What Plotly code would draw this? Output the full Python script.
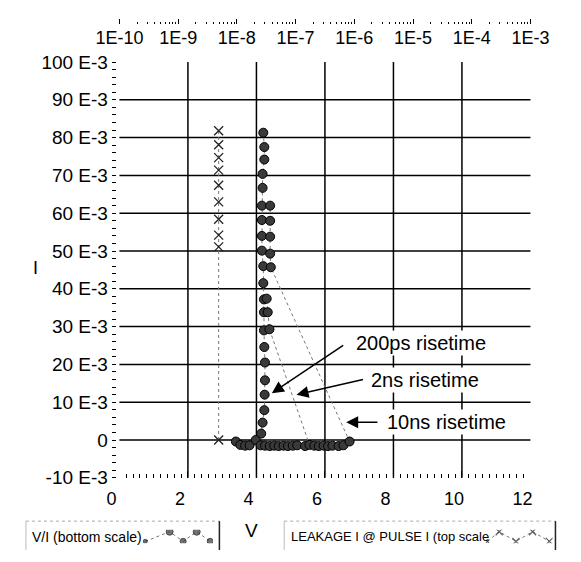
import plotly.graph_objects as go

# ---------------- data ----------------
# V/I curves (bottom scale): voltage in V, current in mA
v_200ps = [3.40, 3.53, 3.67, 3.80, 3.98, 4.14, 4.18, 4.23, 4.24, 4.25, 4.25, 4.23, 4.22,
           4.22, 4.22, 4.20, 4.20, 4.16, 4.16, 4.16, 4.16, 4.18, 4.18, 4.23, 4.23, 4.20]
i_200ps = [-0.4, -1.3, -1.5, -1.4, 0.0, 1.7, 4.6, 7.9, 12.0, 15.8, 20.5, 24.6, 29.0,
           33.8, 37.2, 41.5, 46.0, 50.1, 54.0, 58.2, 62.0, 66.7, 70.4, 74.2, 77.5, 81.3]

v_2ns = [4.12, 4.25, 4.39, 4.52, 4.65, 4.79, 4.92, 5.06, 5.19, 5.42, 5.55, 4.38, 4.33, 4.30]
i_2ns = [-1.4, -1.5, -1.6, -1.5, -1.6, -1.5, -1.6, -1.5, -1.4, -1.6, -1.3, 29.3, 33.8, 37.4]

v_10ns = [5.69, 5.82, 5.96, 6.09, 6.22, 6.40, 6.54, 6.72, 4.42, 4.40, 4.40, 4.40, 4.40]
i_10ns = [-1.5, -1.6, -1.5, -1.6, -1.5, -1.6, -1.4, -0.4, 45.7, 49.3, 53.8, 58.0, 62.0]

# Leakage current (top scale, A) at pulse current (mA)
leak_a = [4.9e-9, 4.9e-9, 4.9e-9, 4.9e-9, 4.9e-9, 4.9e-9, 4.9e-9, 4.9e-9, 4.9e-9, 4.9e-9]
leak_pulse_i = [0.0, 51.1, 54.2, 58.4, 63.0, 67.4, 71.4, 74.7, 78.1, 81.8]

# axes ticks
x_ticks = [0, 2, 4, 6, 8, 10, 12]
y_ticks = [-10, 0, 10, 20, 30, 40, 50, 60, 70, 80, 90, 100]
y_tick_text = ["-10 E-3", "0", "10 E-3", "20 E-3", "30 E-3", "40 E-3", "50 E-3",
               "60 E-3", "70 E-3", "80 E-3", "90 E-3", "100 E-3"]
top_exps = [-10, -9, -8, -7, -6, -5, -4, -3]
top_tick_text = ["1E-10", "1E-9", "1E-8", "1E-7", "1E-6", "1E-5", "1E-4", "1E-3"]
v_grid = [2, 4, 6, 8, 10]
i_grid = [0, 10, 20, 30, 40, 50, 60, 70, 80, 90]

# legend sample zig-zags
icon1_x = [0, 1.8, 2.8, 3.8, 4.8]
icon2_x = [0, 0.7, 1.7, 2.7, 3.7]
icon_y = [0, 1, 0, 1, 0]

# ---------------- layout helpers ----------------
W, H = 581, 562
ML, MR, MT, MB = 1, 1, 1, 1
PW, PH = W - ML - MR, H - MT - MB
def fx(px):
    return (px - ML) / PW
def fy(py):
    return (H - MB - py) / PH

X0, X1 = 103, 547      # pixel span of 0..12 V
YT, YB = 54, 486       # pixel span of 100E-3 .. -10E-3

FONT = "Liberation Sans, Arial, sans-serif"
mA = lambda a: [v / 1000.0 for v in a]

fig = go.Figure()

dot_line = dict(color="#777777", width=1, dash="dot")
dot_marker = dict(symbol="circle", size=9, color="#3a3a3a", line=dict(color="#000", width=1))
for vv, ii in [(v_200ps, i_200ps), (v_2ns, i_2ns), (v_10ns, i_10ns)]:
    fig.add_trace(go.Scatter(x=vv, y=mA(ii), mode="lines+markers", xaxis="x", yaxis="y",
                             line=dot_line, marker=dot_marker, showlegend=False))

fig.add_trace(go.Scatter(x=leak_a, y=mA(leak_pulse_i), mode="lines+markers", xaxis="x2", yaxis="y",
                         line=dict(color="#777777", width=1, dash="dot"),
                         marker=dict(symbol="x-thin", size=9, line=dict(color="#222", width=1.3)),
                         showlegend=False))
# carrier for the top-scale labels axis
fig.add_trace(go.Scatter(x=[], y=[], xaxis="x5", yaxis="y", showlegend=False))

# legend icons
fig.add_trace(go.Scatter(x=icon1_x, y=icon_y, xaxis="x3", yaxis="y3",
                         mode="lines+markers", line=dot_line,
                         marker=dict(symbol="circle", size=[4, 7, 6, 7, 6], color="#3a3a3a",
                                     line=dict(color="#000", width=1)),
                         showlegend=False, hoverinfo="skip"))
fig.add_trace(go.Scatter(x=icon2_x, y=icon_y, xaxis="x4", yaxis="y4",
                         mode="lines+markers", line=dict(color="#777777", width=1, dash="dot"),
                         marker=dict(symbol="x-thin", size=[3, 7, 7, 7, 7], line=dict(color="#222", width=1.2)),
                         showlegend=False, hoverinfo="skip"))

xdom = [fx(X0), fx(X1)]
minor_top = [k * 10.0 ** e for e in top_exps[:-1] for k in range(2, 10)]

shapes = []
for v in v_grid:
    shapes.append(dict(type="line", xref="x", yref="y domain", x0=v, x1=v, y0=0, y1=1,
                       line=dict(color="#000", width=1.5), layer="below"))
for i in i_grid:
    shapes.append(dict(type="line", xref="x domain", yref="y", x0=0, x1=1, y0=i / 1000, y1=i / 1000,
                       line=dict(color="#000", width=1.5), layer="below"))
# legend boxes
for (a, b) in [(2, 211), (281, 574)]:
    shapes.append(dict(type="line", xref="paper", yref="paper", x0=fx(a), x1=fx(b), y0=fy(531), y1=fy(531),
                       line=dict(color="#aaaaaa", width=1, dash="dot")))
    shapes.append(dict(type="line", xref="paper", yref="paper", x0=fx(b), x1=fx(b), y0=fy(531), y1=fy(561),
                       line=dict(color="#222", width=1.5)))
    shapes.append(dict(type="line", xref="paper", yref="paper", x0=fx(a), x1=fx(a), y0=fy(531), y1=fy(561),
                       line=dict(color="#bbbbbb", width=1)))

ann = []
arrow_common = dict(xref="x", yref="y", axref="x", ayref="y", showarrow=True, arrowhead=2,
                    arrowsize=1.6, arrowwidth=1.5, arrowcolor="#000", text=" ")
ann.append(dict(x=4.45, y=0.0124, ax=6.62, ay=0.0256, **arrow_common))
ann.append(dict(x=5.17, y=0.0120, ax=7.2, ay=0.0162, **arrow_common))
ann.append(dict(x=6.62, y=0.0047, ax=7.62, ay=0.0047, **arrow_common))
txt_font = dict(family=FONT, size=20, color="#000")
ann.append(dict(x=6.84, y=0.0257, xref="x", yref="y", text="200ps risetime", xanchor="left",
                yanchor="middle", showarrow=False, font=txt_font, bgcolor="white"))
ann.append(dict(x=7.3, y=0.0160, xref="x", yref="y", text="2ns risetime", xanchor="left",
                yanchor="middle", showarrow=False, font=txt_font, bgcolor="white"))
ann.append(dict(x=7.76, y=0.0047, xref="x", yref="y", text="10ns risetime", xanchor="left",
                yanchor="middle", showarrow=False, font=txt_font, bgcolor="white"))
ann.append(dict(x=fx(6), y=fy(547), xref="paper", yref="paper", text="V/I (bottom scale)",
                xanchor="left", yanchor="middle", showarrow=False,
                font=dict(family=FONT, size=14, color="#000")))
ann.append(dict(x=fx(286), y=fy(547), xref="paper", yref="paper", text="LEAKAGE I @ PULSE I (top scale",
                xanchor="left", yanchor="middle", showarrow=False,
                font=dict(family=FONT, size=13, color="#000")))
ann.append(dict(x=fx(246), y=fy(541), xref="paper", yref="paper", text="V", xanchor="center",
                yanchor="middle", showarrow=False, font=dict(family=FONT, size=19, color="#000")))
ann.append(dict(x=fx(12), y=fy(268), xref="paper", yref="paper", text="I", xanchor="center",
                yanchor="middle", showarrow=False, font=dict(family=FONT, size=18, color="#000")))

fig.update_layout(
    width=W, height=H, margin=dict(l=ML, r=MR, t=MT, b=MB),
    paper_bgcolor="white", plot_bgcolor="white",
    font=dict(family=FONT, color="#000"),
    xaxis=dict(domain=xdom, range=[0, 12], anchor="y", tickmode="array", tickvals=x_ticks,
               ticks="inside", ticklen=7, tickcolor="#000", tickwidth=1, showgrid=False,
               zeroline=False, showline=False, tickfont=dict(size=18),
               ticklabelstandoff=8, ticklabelshift=-8,
               minor=dict(tick0=0, dtick=0.2, ticks="inside", ticklen=4, tickcolor="#000", showgrid=False)),
    yaxis=dict(domain=[fy(YB), fy(YT)], range=[-0.010, 0.100], anchor="free", position=fx(99),
               tickmode="array", tickvals=mA(y_ticks), ticktext=y_tick_text, ticks="outside",
               ticklen=4, tickcolor="#000", showgrid=False, zeroline=False, showline=False,
               tickfont=dict(size=19),
               minor=dict(tick0=0, dtick=0.002, ticks="outside", ticklen=4, tickcolor="#000", showgrid=False)),
    xaxis2=dict(type="log", range=[-10, -3], overlaying="x", anchor="free", position=fy(14),
                side="top", domain=xdom, tickmode="array", tickvals=[10.0 ** e for e in top_exps],
                showticklabels=False, ticks="outside", ticklen=5, tickcolor="#000",
                showgrid=False, zeroline=False, showline=False,
                minor=dict(tickmode="array", tickvals=minor_top, ticks="outside", ticklen=2,
                           tickcolor="#000", showgrid=False)),
    xaxis5=dict(type="log", range=[-10, -3], overlaying="x", anchor="free", position=fy(39),
                side="top", domain=xdom, tickmode="array", tickvals=[10.0 ** e for e in top_exps],
                ticktext=top_tick_text, ticks="", showgrid=False, zeroline=False, showline=False,
                tickfont=dict(size=18)),
    xaxis3=dict(domain=[fx(128), fx(204)], visible=False, anchor="y3", range=[-0.2, 5.0]),
    yaxis3=dict(domain=[fy(554), fy(540)], visible=False, anchor="x3", range=[-0.2, 1.2]),
    xaxis4=dict(domain=[fx(497), fx(571)], visible=False, anchor="y4", range=[-0.2, 3.9]),
    yaxis4=dict(domain=[fy(554), fy(540)], visible=False, anchor="x4", range=[-0.2, 1.2]),
    shapes=shapes, annotations=ann,
)

fig.write_html("out.html")
